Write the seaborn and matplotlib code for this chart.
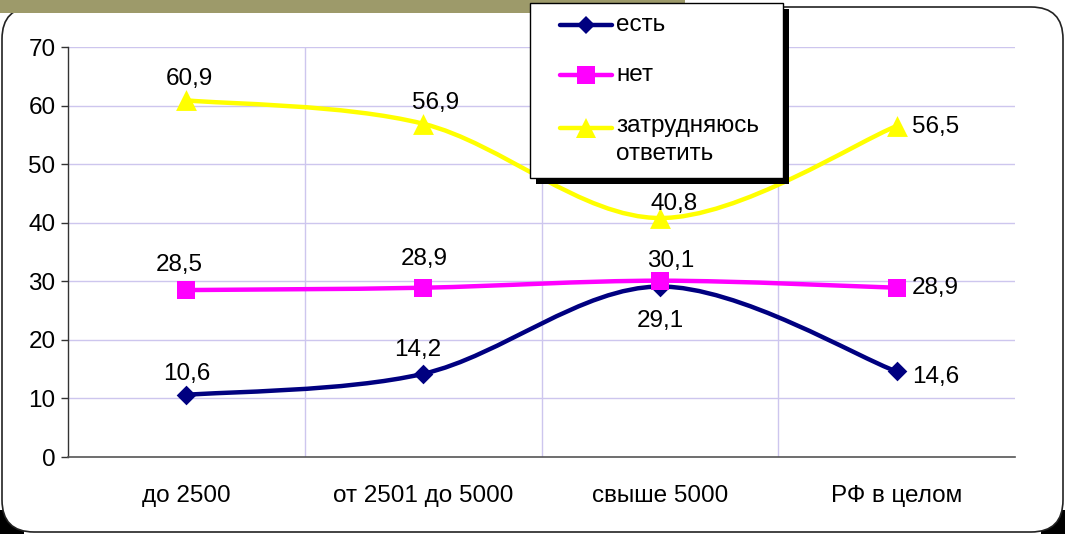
import numpy as np
import pandas as pd
import seaborn as sns
import matplotlib
matplotlib.use("Agg")
import matplotlib.pyplot as plt
from matplotlib.path import Path
from matplotlib.patches import PathPatch, Rectangle, FancyBboxPatch
from matplotlib.lines import Line2D

# ---- data ----
categories = ["до 2500", "от 2501 до 5000", "свыше 5000", "РФ в целом"]
series_names = ["есть", "нет", "затрудняюсь\nответить"]
values_est = [10.6, 14.2, 29.1, 14.6]
values_net = [28.5, 28.9, 30.1, 28.9]
values_hard = [60.9, 56.9, 40.8, 56.5]
yticks = [0, 10, 20, 30, 40, 50, 60, 70]

colors = ["#000080", "#ff00ff", "#ffff00"]
markers = ["D", "s", "^"]
marker_sizes = [10, 13, 15]

# label offsets (points) and alignment for each value label
label_pos = [
    [((0, 15), "center"), ((-4, 17), "center"), ((0, -25), "center"), ((11, -4), "left")],
    [((-5, 18), "center"), ((1, 21), "center"), ((8, 14), "center"), ((11, 0), "left")],
    [((2, 15), "center"), ((9, 15), "center"), ((10, 10), "center"), ((11, -1), "left")],
]

sns.set_theme(style="white")
plt.rcParams["font.family"] = ["Liberation Sans", "DejaVu Sans"]

df = pd.DataFrame({
    "x": list(range(len(categories))) * 3,
    "value": values_est + values_net + values_hard,
    "series": sum([[n] * len(categories) for n in series_names], []),
})

W, H = 1065, 534
fig = plt.figure(figsize=(W / 100, H / 100), dpi=100)
fig.patch.set_facecolor("white")

# dark fill in the two lower corners, behind a rounded white panel
cs = 24
for cx in (0, 1 - cs / W):
    fig.add_artist(Rectangle((cx, 0), cs / W, cs / H, transform=fig.transFigure,
                             facecolor="black", edgecolor="none", zorder=-5))
fig.add_artist(FancyBboxPatch((0.02, 0.02), 10.61, 5.25,
                              boxstyle="round,pad=0,rounding_size=0.32",
                              transform=fig.dpi_scale_trans,
                              facecolor="white", edgecolor="#222222",
                              linewidth=1.2, zorder=-4))
# olive header strip
fig.add_artist(Rectangle((0, 1 - 13 / H), 685 / W, 13 / H, transform=fig.transFigure,
                         facecolor="#9d9a6a", edgecolor="none", zorder=5))

ax = fig.add_axes([68 / W, 77 / H, 947 / W, 410 / H])
ax.set_facecolor("none")


def smooth_path(xs, ys, t=1 / 6):
    pts = np.column_stack([xs, ys]).astype(float)
    ext = np.vstack([pts[0], pts, pts[-1]])
    verts = [pts[0]]
    codes = [Path.MOVETO]
    for i in range(len(pts) - 1):
        p0, p1, p2, p3 = ext[i], ext[i + 1], ext[i + 2], ext[i + 3]
        c1 = p1 + (p2 - p0) * t
        c2 = p2 - (p3 - p1) * t
        verts += [c1, c2, p2]
        codes += [Path.CURVE4] * 3
    return Path(verts, codes)


x = np.arange(len(categories))
for name, vals, c in zip(series_names, [values_est, values_net, values_hard], colors):
    ax.add_patch(PathPatch(smooth_path(x, vals), facecolor="none", edgecolor=c,
                           linewidth=3.2, zorder=3, capstyle="round"))

for name, c, m, ms in zip(series_names, colors, markers, marker_sizes):
    sub = df[df["series"] == name]
    sns.scatterplot(data=sub, x="x", y="value", color=c, marker=m, s=ms ** 2,
                    edgecolor=c, linewidth=0, ax=ax, zorder=4, legend=False)

for vals, pos in zip([values_est, values_net, values_hard], label_pos):
    for xi, (v, (off, ha)) in enumerate(zip(vals, pos)):
        ax.annotate(f"{v:.1f}".replace(".", ","), (xi, v), xytext=off,
                    textcoords="offset points", ha=ha, va="center",
                    fontsize=17.5, color="black", zorder=6)

ax.set_xlim(-0.5, len(categories) - 0.5)
ax.set_ylim(0, 70)
ax.set_yticks(yticks)
ax.set_xticks(x)
ax.set_xticklabels(categories)
ax.set_xticks(np.arange(-0.5, len(categories)), minor=True)
ax.set_xlabel("")
ax.set_ylabel("")
ax.tick_params(axis="x", which="major", length=0, pad=20, labelsize=17.5, colors="black")
ax.tick_params(axis="x", which="minor", length=6, width=1, color="#333333", direction="out")
ax.tick_params(axis="y", length=5, width=1, color="#333333", direction="out",
               pad=4, labelsize=17.5, left=True, labelcolor="black")

grid_c = "#cdc6ee"
for yv in yticks[1:]:
    ax.axhline(yv, color=grid_c, linewidth=1, zorder=1)
for xv in np.arange(0.5, len(categories) - 1):
    ax.axvline(xv, color=grid_c, linewidth=1, zorder=1)

for side in ["top", "right"]:
    ax.spines[side].set_visible(False)
ax.spines["left"].set_color("#333333")
ax.spines["bottom"].set_color("#555555")
ax.spines["left"].set_linewidth(1)
ax.spines["bottom"].set_linewidth(1.2)


def fx(px):
    return px / W


def fy(py):
    return 1 - py / H


# legend box with a hard black shadow
lx0, lx1, ly0, ly1 = 530, 783, 3, 178
fig.add_artist(Rectangle((fx(lx0 + 6), fy(ly1 + 6)), fx(lx1 - lx0), (ly1 - ly0) / H,
                         transform=fig.transFigure, facecolor="black",
                         edgecolor="none", zorder=7))
fig.add_artist(Rectangle((fx(lx0), fy(ly1)), fx(lx1 - lx0), (ly1 - ly0) / H,
                         transform=fig.transFigure, facecolor="white",
                         edgecolor="black", linewidth=1, zorder=8))
entry_y = [25, 75, 128]
for name, c, m, ms, ey in zip(series_names, colors, markers, marker_sizes, entry_y):
    fig.add_artist(Line2D([fx(560), fx(612)], [fy(ey), fy(ey)], transform=fig.transFigure,
                          color=c, linewidth=3.2, zorder=9, solid_capstyle="round"))
    fig.add_artist(Line2D([fx(586)], [fy(ey)], transform=fig.transFigure, color=c,
                          marker=m, markersize=ms * 0.95, markeredgewidth=0,
                          linestyle="none", zorder=10))
    if "\n" in name:
        fig.text(fx(616), fy(ey - 13), name, ha="left", va="top", fontsize=17.5,
                 color="black", zorder=10, linespacing=1.35)
    else:
        fig.text(fx(616), fy(ey), name, ha="left", va="center", fontsize=17.5,
                 color="black", zorder=10)

fig.savefig("out.png", dpi=100, facecolor=fig.get_facecolor())
